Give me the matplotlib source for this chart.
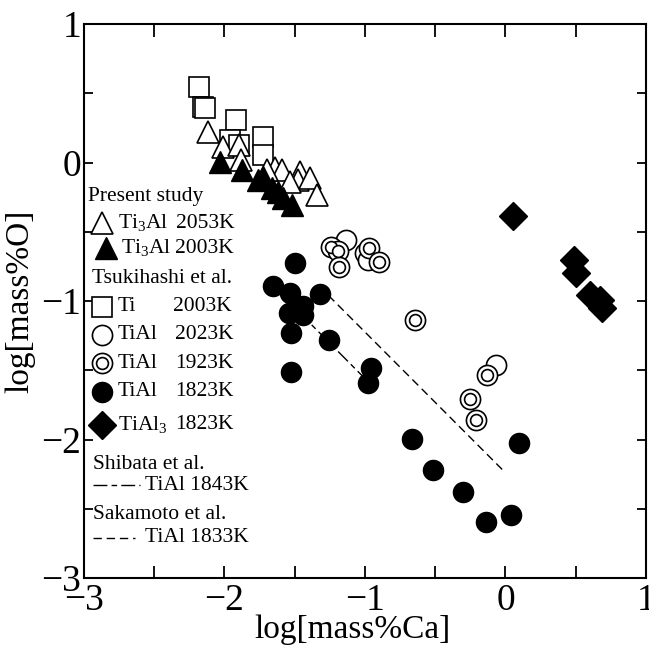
import matplotlib
matplotlib.use('Agg')
import matplotlib.pyplot as plt

plt.rcParams['font.family'] = ['Liberation Serif', 'DejaVu Serif']
plt.rcParams['mathtext.fontset'] = 'custom'
plt.rcParams['mathtext.rm'] = 'Liberation Serif'
plt.rcParams['axes.unicode_minus'] = True

# ---------------- data ----------------
# Present study
ti3al_2053_x = [-2.115, -2.013, -1.895, -1.883, -1.641, -1.593, -1.700, -1.463, -1.475, -1.391, -1.344, -1.534]
ti3al_2053_y = [0.222, 0.110, 0.126, 0.018, -0.042, -0.054, -0.054, -0.066, -0.126, -0.114, -0.235, -0.139]
ti3al_2003_x = [-2.032, -1.878, -1.759, -1.724, -1.664, -1.617, -1.581, -1.522]
ti3al_2003_y = [0.006, -0.054, -0.126, -0.103, -0.186, -0.211, -0.258, -0.307]
# Tsukihashi et al.
ti_2003_x = [-2.181, -2.155, -2.139, -1.920, -1.961, -1.897, -1.728, -1.728]
ti_2003_y = [0.547, 0.403, 0.391, 0.307, 0.162, 0.126, 0.186, 0.054]
tial_2023_x = [-1.137, -1.000, -0.977, -0.070]
tial_2023_y = [-0.560, -0.656, -0.704, -1.462]
tial_1923_x = [-1.242, -1.190, -1.183, -0.969, -0.898, -0.644, -0.132, -0.253, -0.210]
tial_1923_y = [-0.608, -0.637, -0.752, -0.620, -0.716, -1.137, -1.534, -1.710, -1.859]
tial_1823_x = [-1.498, -1.657, -1.534, -1.320, -1.439, -1.539, -1.439, -1.529, -1.256,
               -1.529, -0.959, -0.977, -0.663, -0.518, -0.300, -0.139, 0.037, 0.098]
tial_1823_y = [-0.728, -0.892, -0.944, -0.949, -1.036, -1.084, -1.101, -1.233, -1.282,
               -1.510, -1.486, -1.594, -1.996, -2.220, -2.377, -2.594, -2.545, -2.023]
tial3_1823_x = [0.056, 0.490, 0.502, 0.601, 0.673, 0.685]
tial3_1823_y = [-0.386, -0.704, -0.800, -0.957, -0.993, -1.053]
# Literature lines
shibata_x = [-1.47, -1.01]
shibata_y = [-1.08, -1.55]
sakamoto_x = [-1.26, -0.02]
sakamoto_y = [-0.96, -2.22]

xticks_major = [-3, -2, -1, 0, 1]
yticks_major = [-3, -2, -1, 0, 1]

# ---------------- figure ----------------
fig = plt.figure(figsize=(6.49, 6.48), dpi=100)
ax = fig.add_axes([84/649, 1-578/648, 562/649, 554/648])
ax.set_xlim(-3, 1)
ax.set_ylim(-3, 1)

MS = 14.5
ax.plot(ti_2003_x, ti_2003_y, 's', ms=MS, mfc='white', mec='black', mew=1.2, ls='none', zorder=3)
ax.plot(ti3al_2053_x, ti3al_2053_y, '^', ms=15.5, mfc='white', mec='black', mew=1.2, ls='none', zorder=4)
ax.plot(ti3al_2003_x, ti3al_2003_y, '^', ms=15.5, mfc='black', mec='black', mew=1.0, ls='none', zorder=5)
ax.plot(tial_2023_x, tial_2023_y, 'o', ms=MS, mfc='white', mec='black', mew=1.2, ls='none', zorder=3)
ax.plot(tial_1923_x, tial_1923_y, 'o', ms=MS, mfc='white', mec='black', mew=1.2, ls='none', zorder=4)
ax.plot(tial_1923_x, tial_1923_y, 'o', ms=8.5, mfc='white', mec='black', mew=1.2, ls='none', zorder=4)
ax.plot(tial_1823_x, tial_1823_y, 'o', ms=MS, mfc='black', mec='black', ls='none', zorder=3)
ax.plot(tial3_1823_x, tial3_1823_y, 'D', ms=14, mfc='black', mec='black', ls='none', zorder=3)

SHIB_DASH = (10, 3, 4, 3)
SAKA_DASH = (6, 3.5)
ax.plot(shibata_x, shibata_y, color='black', lw=1.0, dashes=SHIB_DASH, zorder=2)
ax.plot(sakamoto_x, sakamoto_y, color='black', lw=1.0, dashes=SAKA_DASH, zorder=2)

# ---------------- axes styling ----------------
ax.set_xticks(xticks_major)
ax.set_yticks(yticks_major)
ax.set_xticks([-2.5, -1.5, -0.5, 0.5], minor=True)
ax.set_yticks([-2.5, -1.5, -0.5, 0.5], minor=True)
ax.tick_params(axis='x', which='both', direction='in', top=True, bottom=True,
               length=9, width=1.3, labelsize=27, pad=4)
ax.tick_params(axis='y', which='both', direction='in', left=True, right=True,
               length=6.5, width=1.3, labelsize=27, pad=2)
for s in ax.spines.values():
    s.set_linewidth(1.5)

ax.set_xlabel('log[mass%Ca]', fontsize=24, labelpad=2)
ax.xaxis.set_label_coords((352-84)/562, -0.066)
ax.set_ylabel('log[mass%O]', fontsize=24, labelpad=4)

# ---------------- manual legend ----------------
FS = 15.5
tx = dict(fontsize=FS, va='center', ha='left', zorder=6)
ax.text(-2.972, -0.249, 'Present study', **tx)
ax.plot([-2.874], [-0.439], '^', ms=15.5, mfc='white', mec='black', mew=1.2, clip_on=False)
ax.text(-2.756, -0.439, r'Ti$_{\mathrm{3}}$Al', **tx)
ax.text(-2.345, -0.439, '2053K', **tx)
ax.plot([-2.845], [-0.620], '^', ms=15.5, mfc='black', mec='black', clip_on=False)
ax.text(-2.735, -0.620, r'Ti$_{\mathrm{3}}$Al', **tx)
ax.text(-2.352, -0.620, '2003K', **tx)

ax.text(-2.945, -0.836, 'Tsukihashi et al.', **tx)
ax.plot([-2.874], [-1.041], 's', ms=MS, mfc='white', mec='black', mew=1.2, clip_on=False)
ax.text(-2.758, -1.041, 'Ti', **tx)
ax.text(-2.367, -1.041, '2003K', **tx)
ax.plot([-2.874], [-1.245], 'o', ms=MS, mfc='white', mec='black', mew=1.2, clip_on=False)
ax.text(-2.758, -1.245, 'TiAl', **tx)
ax.text(-2.352, -1.245, '2023K', **tx)
ax.plot([-2.874], [-1.450], 'o', ms=MS, mfc='white', mec='black', mew=1.2, clip_on=False)
ax.plot([-2.874], [-1.450], 'o', ms=8.5, mfc='white', mec='black', mew=1.2, clip_on=False)
ax.text(-2.758, -1.450, 'TiAl', **tx)
ax.text(-2.352, -1.450, '1923K', **tx)
ax.plot([-2.874], [-1.655], 'o', ms=MS, mfc='black', mec='black', clip_on=False)
ax.text(-2.758, -1.655, 'TiAl', **tx)
ax.text(-2.352, -1.655, '1823K', **tx)
ax.plot([-2.874], [-1.895], 'D', ms=14, mfc='black', mec='black', clip_on=False)
ax.text(-2.758, -1.895, r'TiAl$_{\mathrm{3}}$', **tx)
ax.text(-2.352, -1.895, '1823K', **tx)

ax.text(-2.934, -2.184, 'Shibata et al.', **tx)
ax.plot([-2.934, -2.601], [-2.329, -2.329], color='black', lw=1.0, dashes=SHIB_DASH)
ax.text(-2.566, -2.329, 'TiAl 1843K', **tx)
ax.text(-2.934, -2.545, 'Sakamoto et al.', **tx)
ax.plot([-2.934, -2.640], [-2.711, -2.711], color='black', lw=1.0, dashes=SAKA_DASH)
ax.text(-2.566, -2.711, 'TiAl 1833K', **tx)

fig.savefig('out.png', dpi=100)
